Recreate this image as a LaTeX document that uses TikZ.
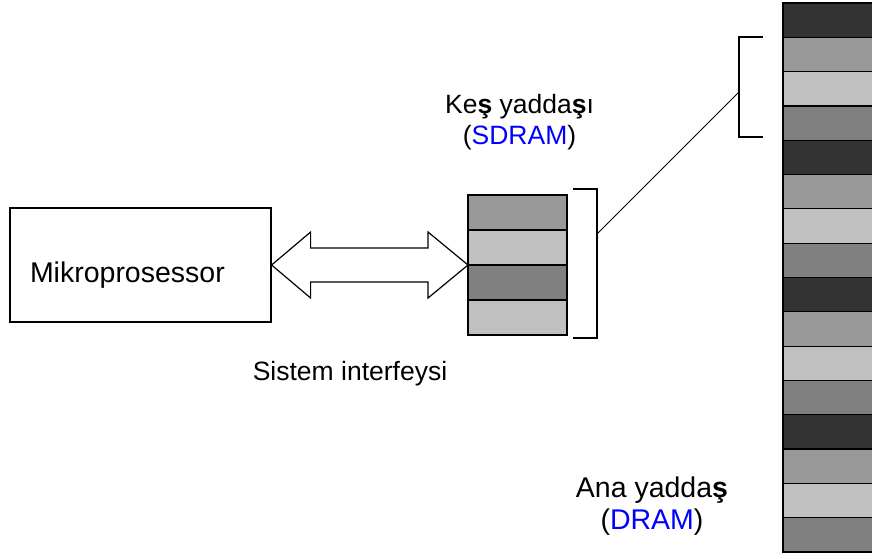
\documentclass[tikz,border=0pt]{standalone}
\usepackage{fontspec}
\setmainfont{Liberation Sans}
\usetikzlibrary{calc,positioning}
\definecolor{mdark}{RGB}{51,51,51}
\definecolor{mmid}{RGB}{153,153,153}
\definecolor{mlight}{RGB}{192,192,192}
\definecolor{mgray}{RGB}{128,128,128}
\definecolor{lblue}{RGB}{0,0,255}

\begin{document}
\begin{tikzpicture}[x=1pt,y=-1pt,line width=1.2pt,
    font=\fontsize{28.5}{34}\selectfont,
    cell/.style={draw,minimum width=99pt,minimum height=35pt,inner sep=0pt,outer sep=0pt},
    mcell/.style={draw,minimum width=100pt,minimum height=34.31pt,inner sep=0pt,outer sep=0pt},
    bus/.style={draw,fill=white,line join=miter},
    txt/.style={anchor=base,inner sep=0pt}]
    \useasboundingbox (0,0) rectangle (872,558);
    \clip (0,0) rectangle (872,558);

    % main memory column
    \foreach \i/\c in {1/mdark,2/mmid,3/mlight,4/mgray,5/mdark,6/mmid,7/mlight,8/mgray,
                       9/mdark,10/mmid,11/mlight,12/mgray,13/mdark,14/mmid,15/mlight,16/mgray}
      {\node[mcell,fill=\c] (m\i) at (833,{3+34.31*(\i-0.5)}) {};}

    % cache
    \foreach \i/\c in {1/mmid,2/mlight,3/mgray,4/mlight}
      {\node[cell,fill=\c] (c\i) at (517.5,{195+35*(\i-0.5)}) {};}

    % processor
    \node[draw,minimum width=261pt,minimum height=114pt,inner sep=0pt] (cpu) at (140.5,265) {};
    \node[txt,anchor=base west] (cputxt) at ($(cpu.west)+(20,17)$) {Mikroprosessor};

    % system bus
    \draw[bus] (cpu.east) -- ++(39,-33) -- ++(0,16) -- ($(c2.south west)+(-40,-17)$)
      -- ++(0,-16) -- (c2.south west) -- ++(-40,33) -- ++(0,-16)
      -- ($(cpu.east)+(39,17)$) -- ++(0,16) -- cycle;

    % brackets
    \draw (573,189) -- (597,189) -- (597,338) -- (573,338);
    \draw (763,37) -- (739,37) -- (739,137) -- (763,137);
    \coordinate (cb) at (597,234);
    \coordinate (mb) at (739,92);
    \draw[line width=1pt] (cb) -- (mb);

    % labels
    \node[txt,font=\fontsize{26.5}{32}\selectfont] (keslbl) at (519.5,113) {Ke\textbf{ş} yadda\textbf{ş}ı};
    \node[txt,font=\fontsize{26.5}{32}\selectfont] (kessub) at ($(keslbl.base)+(0,31)$) {(\textcolor{lblue}{SDRAM})};
    \node[txt,font=\fontsize{26.5}{32}\selectfont] (buslbl) at (350,380) {Sistem interfeysi};
    \node[txt] (analbl) at (652,497) {Ana yadda\textbf{ş}};
    \node[txt] (anasub) at ($(analbl.base)+(0,32)$) {(\textcolor{lblue}{DRAM})};
\end{tikzpicture}
\end{document}
